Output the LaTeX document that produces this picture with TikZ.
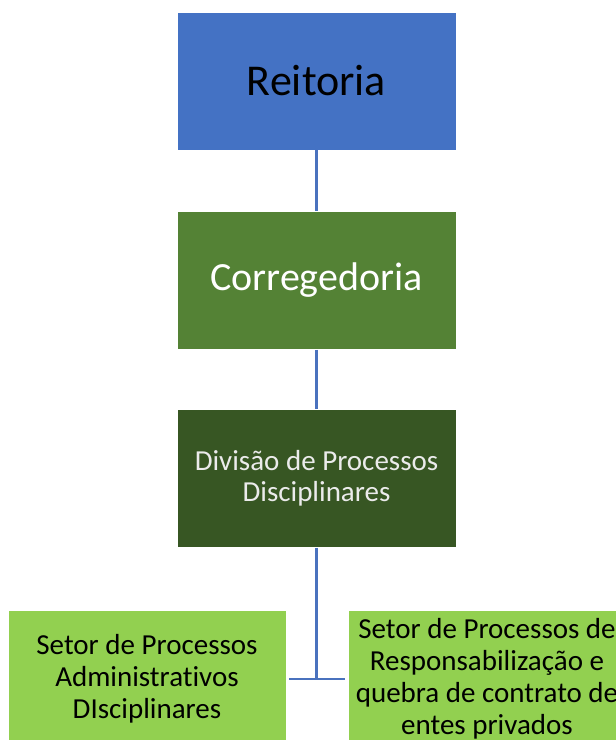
\documentclass[tikz,border=0pt]{standalone}
\usepackage{fontspec}
\setmainfont{Carlito}[Ligatures=NoCommon]
\usepackage{tikz}
\usetikzlibrary{calc}
\definecolor{boxblue}{HTML}{4472C4}
\definecolor{boxgreen}{HTML}{548235}
\definecolor{boxdark}{HTML}{375623}
\definecolor{boxlight}{HTML}{92D050}
\definecolor{linkblue}{HTML}{4A72BE}

\begin{document}
\begin{tikzpicture}
  [
    x=1pt, y=-1pt,
    unit/.style =
      {draw=white, line width=0.8pt, rectangle, align=center,
       minimum width=279pt, minimum height=138pt, inner sep=0pt},
    sector/.style =
      {unit, fill=boxlight, minimum width=278pt, text=black,
       font=\fontsize{29}{32}\selectfont},
    link/.style =
      {draw=linkblue, line width=2.4pt}
  ]
  \clip (0,0) rectangle (616,740);
  \useasboundingbox (0,0) rectangle (616,740);

  \node [unit, fill=boxblue, text=black, font=\fontsize{44}{50}\selectfont]
    at (316.5,81) (r) {Reitoria};
  \node [unit, fill=boxgreen, text=white, font=\fontsize{40}{46}\selectfont]
    at (316.5,280.5) (c) {Corregedoria};
  \node [unit, fill=boxdark, text=white!92!black, font=\fontsize{29}{31}\selectfont]
    at (316.5,478.5) (d) {Divisão de Processos\\Disciplinares};
  \node [sector] at (147,679) (a)
    {Setor de Processos\\Administrativos\\DIsciplinares};
  \node [sector] at (487,679) (q)
    {Setor de Processos de\\Responsabilização e\\quebra de contrato de\\entes privados};

  \draw[link] (r.south)  -- (c.north);
  \draw[link] (c.south)  -- (d.north);
  \draw[link] (d.south)  -- (d.south|-a.east);
  \draw[link] ([xshift=3pt]a.east) -- ([xshift=-3pt]q.west);
\end{tikzpicture}
\end{document}
